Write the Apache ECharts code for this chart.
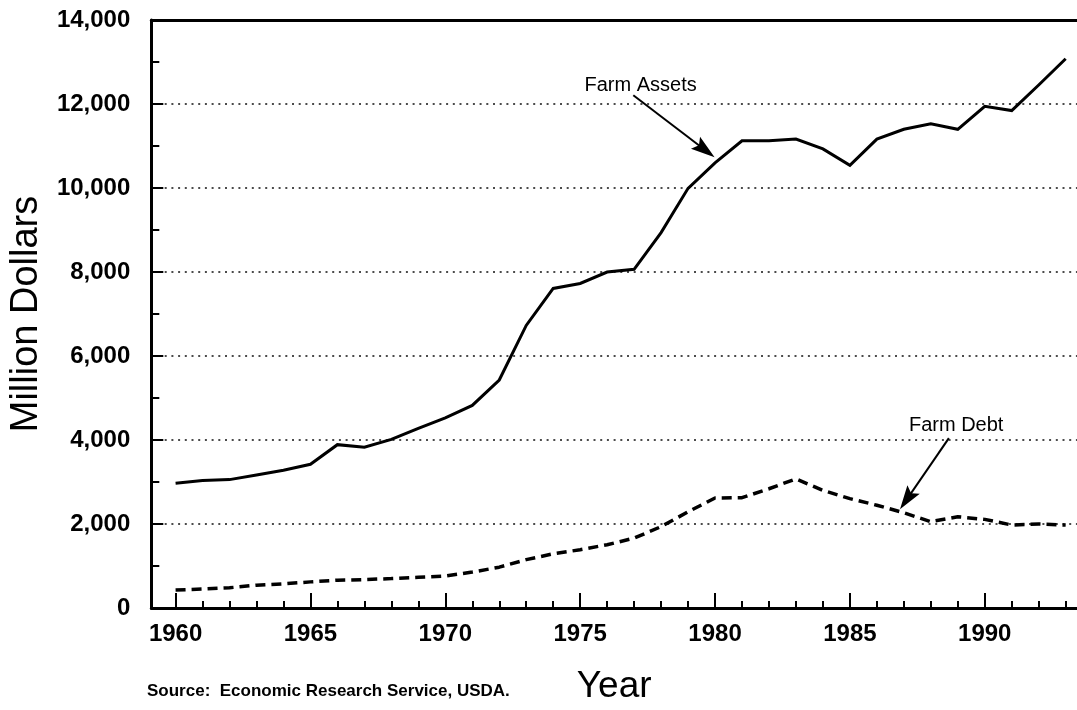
<!DOCTYPE html>
<html>
<head>
<meta charset="utf-8">
<script src="https://cdn.jsdelivr.net/npm/echarts@6/dist/echarts.min.js"></script>
<style>
html,body{margin:0;padding:0;background:#fff;}
#chart{width:1077px;height:710px;}
</style>
</head>
<body>
<div id="chart"></div>
<script>
const years = [1960,1961,1962,1963,1964,1965,1966,1967,1968,1969,1970,1971,1972,1973,1974,1975,1976,1977,1978,1979,1980,1981,1982,1983,1984,1985,1986,1987,1988,1989,1990,1991,1992,1993];
const farmAssets = [2970,3033,3057,3166,3282,3422,3889,3827,4013,4278,4527,4823,5429,6728,7609,7727,8000,8063,8938,9992,10600,11125,11125,11164,10930,10539,11164,11398,11531,11398,11945,11844,12453,13078];
const farmDebt = [427,451,482,544,576,622,661,677,700,731,762,855,972,1151,1290,1388,1506,1663,1937,2290,2620,2627,2839,3075,2800,2604,2447,2267,2055,2172,2110,1976,2000,1976];
const majorYears = [1960,1965,1970,1975,1980,1985,1990];
const yTicks = [0,2000,4000,6000,8000,10000,12000,14000];
const seriesNames = ['Farm Assets','Farm Debt'];
const xTitle = 'Year';
const yTitle = 'Million Dollars';
const sourceNote = 'Source:  Economic Research Service, USDA.';

// annotation anchors (data coordinates)
const assetsLabelAt = [1977.24, 12444];
const assetsArrow = [[1976.97, 12210],[1979.63, 10906]];
const debtLabelAt = [1988.94, 4356];
const debtArrow = [[1988.67, 4044],[1987.11, 2585]];

const FONT = '"Liberation Sans", Arial, Helvetica, sans-serif';
const xMin = 1959.1, xMax = 1993.42;
const ARROW = 'path://M6,0 L12,22 L6,18 L0,22 Z';

const chart = echarts.init(document.getElementById('chart'), null, {renderer:'canvas'});

function toPairs(vals){ return years.map((y,i)=>[y, vals[i]]); }

function arrowMarkLine(pts){
  return {
    silent: true, symbol: ['none', ARROW], symbolSize: 24,
    lineStyle: {color: '#000', width: 2, type: 'solid'},
    itemStyle: {color: '#000'},
    label: {show: false},
    data: [[{coord: pts[0]}, {coord: pts[1], symbolSize: [15, 24]}]]
  };
}
function textMarkPoint(text, at){
  return {
    silent: true, symbol: 'rect', symbolSize: 1, itemStyle: {color: 'rgba(0,0,0,0)'},
    label: {show: true, position: 'inside', color: '#000', fontSize: 20, fontFamily: FONT, formatter: text},
    data: [{coord: at}]
  };
}

const option = {
  animation: false,
  backgroundColor: '#fff',
  textStyle: {fontFamily: FONT},
  grid: {left: 148, right: 0, top: 20, bottom: 90, containLabel: false},
  xAxis: [
    {
      type: 'value', min: xMin, max: xMax, position: 'bottom',
      name: xTitle, nameLocation: 'middle', nameGap: 60,
      nameTextStyle: {fontSize: 37, color: '#000', fontFamily: FONT},
      axisLine: {show: true, onZero: false, lineStyle: {color: '#000', width: 3}},
      axisTick: {show: true, inside: true, length: 15, customValues: majorYears, lineStyle: {color: '#000', width: 2}},
      axisLabel: {show: true, customValues: majorYears, margin: 14, fontSize: 24, fontWeight: 'bold', color: '#000', fontFamily: FONT,
                  formatter: v => String(v)},
      splitLine: {show: false}
    },
    {
      type: 'value', min: xMin, max: xMax, position: 'bottom',
      axisLine: {show: false},
      axisTick: {show: true, inside: true, length: 7, customValues: years, lineStyle: {color: '#000', width: 2}},
      axisLabel: {show: false},
      splitLine: {show: false}
    },
    {
      type: 'value', min: xMin, max: xMax, position: 'top',
      axisLine: {show: true, onZero: false, lineStyle: {color: '#000', width: 3}},
      axisTick: {show: false}, axisLabel: {show: false}, splitLine: {show: false}
    }
  ],
  yAxis: {
    type: 'value', min: yTicks[0], max: yTicks[yTicks.length-1], interval: 2000,
    name: yTitle, nameLocation: 'middle', nameGap: 98, nameRotate: 90,
    nameTextStyle: {fontSize: 38, color: '#000', fontFamily: FONT},
    axisLine: {show: true, lineStyle: {color: '#000', width: 3}},
    axisTick: {show: true, inside: true, length: 12, lineStyle: {color: '#000', width: 2}},
    minorTick: {show: true, splitNumber: 2, length: 8, lineStyle: {color: '#000', width: 2}},
    axisLabel: {margin: 21, fontSize: 24, fontWeight: 'bold', color: '#000', fontFamily: FONT,
                formatter: v => v.toLocaleString('en-US')},
    splitLine: {show: true, showMinLine: false, showMaxLine: false,
                lineStyle: {color: '#111', width: 1.6, type: [2, 4.7]}}
  },
  series: [
    {
      name: seriesNames[0], type: 'line', xAxisIndex: 0, data: toPairs(farmAssets),
      showSymbol: false, symbol: 'none',
      lineStyle: {color: '#000', width: 3, join: 'miter'},
      markLine: arrowMarkLine(assetsArrow),
      markPoint: textMarkPoint(seriesNames[0], assetsLabelAt)
    },
    {
      name: seriesNames[1], type: 'line', xAxisIndex: 0, data: toPairs(farmDebt),
      showSymbol: false, symbol: 'none',
      lineStyle: {color: '#000', width: 3.5, type: [10, 6]},
      markLine: arrowMarkLine(debtArrow),
      markPoint: textMarkPoint(seriesNames[1], debtLabelAt)
    }
  ],
  graphic: [
    {type: 'text', left: 147, top: 683,
     style: {text: sourceNote, fontSize: 17, fontWeight: 'bold', fill: '#000', fontFamily: FONT}}
  ]
};
chart.setOption(option);
</script>
</body>
</html>
